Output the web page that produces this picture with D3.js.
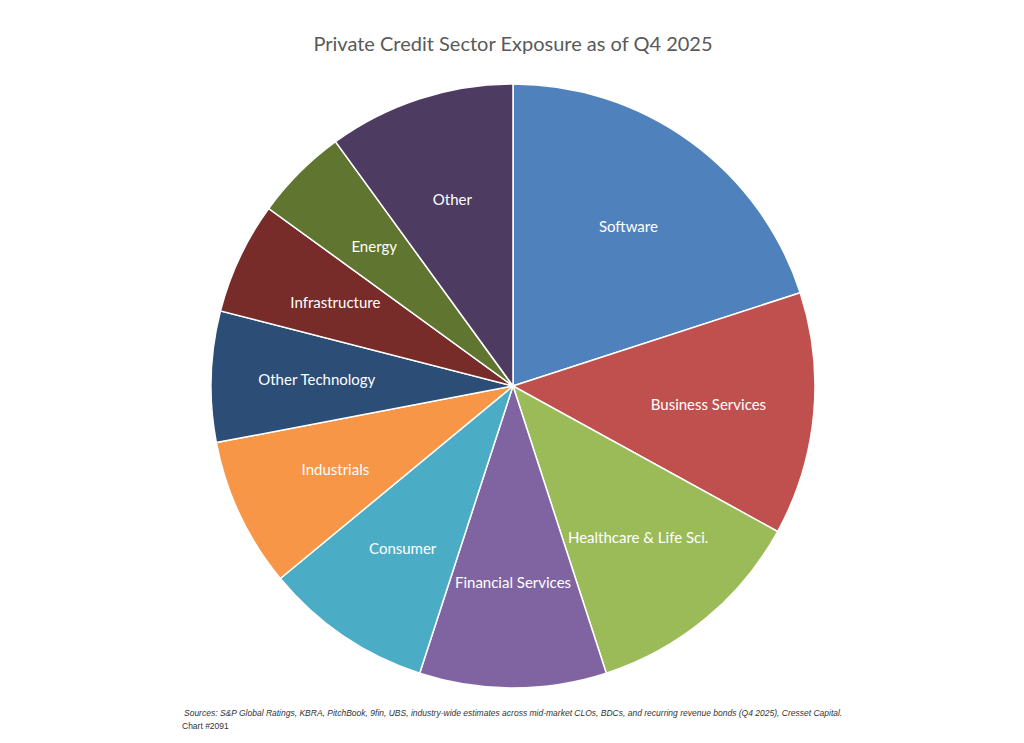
<!DOCTYPE html>
<html><head><meta charset="utf-8">
<script src="https://cdn.jsdelivr.net/npm/d3@7"></script>
<style>body{margin:0;background:#fff;}svg{display:block;}</style>
</head><body>
<script>
const categories=["Software","Business Services","Healthcare & Life Sci.","Financial Services","Consumer","Industrials","Other Technology","Infrastructure","Energy","Other"];
const values=[20,13,12,10,9,8,7,6,5,10];
const colors=["#4F81BD","#C0504D","#9BBB59","#8064A2","#4BACC6","#F79646","#2C4D75","#772C2A","#5F7530","#4D3B62"];
const W=1024,H=743,cx=513,cy=386,R=302;
const svg=d3.select("body").append("svg").attr("width",W).attr("height",H);
svg.append("text").attr("x",cx).attr("y",51).attr("text-anchor","middle")
 .attr("font-family","Lato, 'Open Sans', sans-serif").attr("font-size",20).attr("fill","#595959")
 .text("Private Credit Sector Exposure as of Q4 2025");
const pie=d3.pie().sort(null).value(d=>d)(values);
const arc=d3.arc().innerRadius(0).outerRadius(R);
const lab=d3.arc().innerRadius(R*0.65).outerRadius(R*0.65);
const g=svg.append("g").attr("transform",`translate(${cx},${cy})`);
g.selectAll("path").data(pie).join("path").attr("d",arc)
 .attr("fill",(d,i)=>colors[i]).attr("stroke","#fff").attr("stroke-width",1.5);
g.selectAll("text").data(pie).join("text")
 .attr("transform",d=>`translate(${lab.centroid(d)})`)
 .attr("text-anchor","middle").attr("dy","0.35em")
 .attr("font-family","Lato, 'Open Sans', sans-serif").attr("font-size",15).attr("fill","#fff")
 .text((d,i)=>categories[i]);
const f=svg.append("text").attr("font-family","'Liberation Sans', Arial, sans-serif").attr("font-size",8.5)
 .attr("font-style","italic").attr("fill","#333");
f.append("tspan").attr("x",184).attr("y",716).text("Sources: S&P Global Ratings, KBRA, PitchBook, 9fin, UBS,  industry-wide estimates across mid-market CLOs, BDCs, and recurring revenue bonds (Q4 2025), Cresset Capital.");
f.append("tspan").attr("x",182).attr("y",729).attr("font-style","normal").text("Chart #2091");
</script>
</body></html>
